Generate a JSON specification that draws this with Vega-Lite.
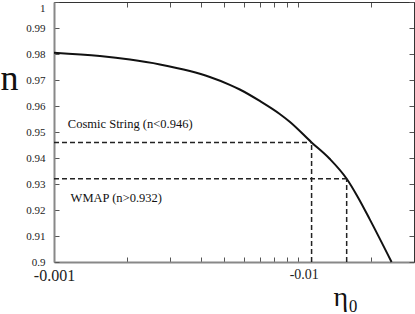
{
  "$schema": "https://vega.github.io/schema/vega-lite/v6.json",
  "width": 360,
  "height": 260,
  "autosize": {"type": "none"},
  "padding": {"left": 54, "top": 2, "right": 1, "bottom": 52},
  "background": "white",
  "config": {"view": {"stroke": null}, "font": "Liberation Serif, Times New Roman, serif"},
  "datasets": {
    "curve": [
      {"eta": -0.001, "n": 0.9805},
      {"eta": -0.001543, "n": 0.97921},
      {"eta": -0.002049, "n": 0.97786},
      {"eta": -0.00272, "n": 0.976},
      {"eta": -0.003609, "n": 0.97345},
      {"eta": -0.004358, "n": 0.97115},
      {"eta": -0.005264, "n": 0.96815},
      {"eta": -0.005785, "n": 0.96635},
      {"eta": -0.006987, "n": 0.96195},
      {"eta": -0.008437, "n": 0.95695},
      {"eta": -0.009272, "n": 0.95395},
      {"eta": -0.0114, "n": 0.946},
      {"eta": -0.01352, "n": 0.9397},
      {"eta": -0.01588, "n": 0.932},
      {"eta": -0.01761, "n": 0.9251},
      {"eta": -0.01973, "n": 0.9165},
      {"eta": -0.02427, "n": 0.9}
    ],
    "rules": [
      {"x1": -0.001, "x2": -0.0114, "y1": 0.946, "y2": 0.946},
      {"x1": -0.0114, "x2": -0.0114, "y1": 0.9, "y2": 0.946},
      {"x1": -0.001, "x2": -0.01588, "y1": 0.932, "y2": 0.932},
      {"x1": -0.01588, "x2": -0.01588, "y1": 0.9, "y2": 0.932}
    ],
    "labels": [
      {"eta": -0.00114, "n": 0.953, "label": "Cosmic String (n<0.946)"},
      {"eta": -0.00117, "n": 0.9245, "label": "WMAP (n>0.932)"}
    ]
  },
  "resolve": {"axis": {"x": "independent", "y": "independent"}},
  "layer": [
    {
      "data": {"name": "curve"},
      "mark": {"type": "line", "color": "#111", "strokeWidth": 2, "interpolate": "monotone"},
      "encoding": {
        "x": {
          "field": "eta", "type": "quantitative",
          "scale": {"type": "log", "domain": [-0.001, -0.03], "nice": false},
          "axis": {
            "orient": "bottom",
            "values": [-0.001, -0.002, -0.003, -0.004, -0.005, -0.006, -0.007, -0.008, -0.009, -0.01, -0.02, -0.03],
            "labelExpr": "datum.value == -0.001 ? '-0.001' : (datum.value == -0.01 ? '-0.01' : '')",
            "grid": false,
            "tickSize": -5,
            "tickColor": "#555",
            "domainColor": "#888",
            "domainWidth": 2,
            "labelFont": "Liberation Serif, Times New Roman, serif",
            "labelFontSize": {"condition": {"test": "datum.value == -0.001", "value": 16}, "value": 14},
            "labelOffset": {"condition": {"test": "datum.value == -0.01", "value": 6}, "value": 0},
            "labelColor": "#222",
            "labelPadding": 10,
            "labelFlush": false,
            "labelOverlap": false,
            "title": "η₀",
            "titleFont": "Liberation Serif, Times New Roman, serif",
            "titleFontSize": 28,
            "titleFontWeight": "normal",
            "titleColor": "#111",
            "titleAlign": "left",
            "titleBaseline": "alphabetic",
            "titleX": 279,
            "titleY": 43
          }
        },
        "y": {
          "field": "n", "type": "quantitative",
          "scale": {"domain": [0.9, 1], "nice": false, "zero": false},
          "axis": {
            "orient": "left",
            "values": [0.9, 0.91, 0.92, 0.93, 0.94, 0.95, 0.96, 0.97, 0.98, 0.99, 1],
            "format": ".2~f",
            "grid": false,
            "tickSize": -5,
            "tickColor": "#555",
            "domainColor": "#888",
            "domainWidth": 2,
            "labelFont": "Liberation Serif, Times New Roman, serif",
            "labelFontSize": 11,
            "labelColor": "#222",
            "labelPadding": 14,
            "labelBaseline": {"condition": {"test": "datum.value == 1", "value": "top"}, "value": "middle"},
            "labelOverlap": false,
            "labelFlush": false,
            "title": "n",
            "titleFont": "Liberation Serif, Times New Roman, serif",
            "titleFontSize": 36,
            "titleFontWeight": "normal",
            "titleColor": "#111",
            "titleAngle": 0,
            "titleAlign": "left",
            "titleBaseline": "alphabetic",
            "titleX": -54,
            "titleY": 87
          }
        }
      }
    },
    {
      "data": {"name": "rules"},
      "mark": {"type": "rule", "color": "#222", "strokeWidth": 1.5, "strokeDash": [5, 3]},
      "encoding": {
        "x": {
          "field": "x1", "type": "quantitative",
          "axis": {
            "orient": "top",
            "values": [-0.001, -0.002, -0.003, -0.004, -0.005, -0.006, -0.007, -0.008, -0.009, -0.01, -0.02, -0.03],
            "labels": false, "grid": false, "tickSize": -5, "tickColor": "#555",
            "domainColor": "#333", "domainWidth": 1, "title": null
          }
        },
        "x2": {"field": "x2"},
        "y": {
          "field": "y1", "type": "quantitative",
          "axis": {
            "orient": "right",
            "values": [0.9, 0.91, 0.92, 0.93, 0.94, 0.95, 0.96, 0.97, 0.98, 0.99, 1],
            "labels": false, "grid": false, "tickSize": -5, "tickColor": "#555",
            "domainColor": "#333", "domainWidth": 1, "title": null
          }
        },
        "y2": {"field": "y2"}
      }
    },
    {
      "data": {"name": "labels"},
      "mark": {"type": "text", "align": "left", "baseline": "middle", "font": "Liberation Serif, Times New Roman, serif", "fontSize": 12.5, "color": "#111"},
      "encoding": {
        "x": {"field": "eta", "type": "quantitative", "axis": null},
        "y": {"field": "n", "type": "quantitative", "axis": null},
        "text": {"field": "label"}
      }
    }
  ]
}
